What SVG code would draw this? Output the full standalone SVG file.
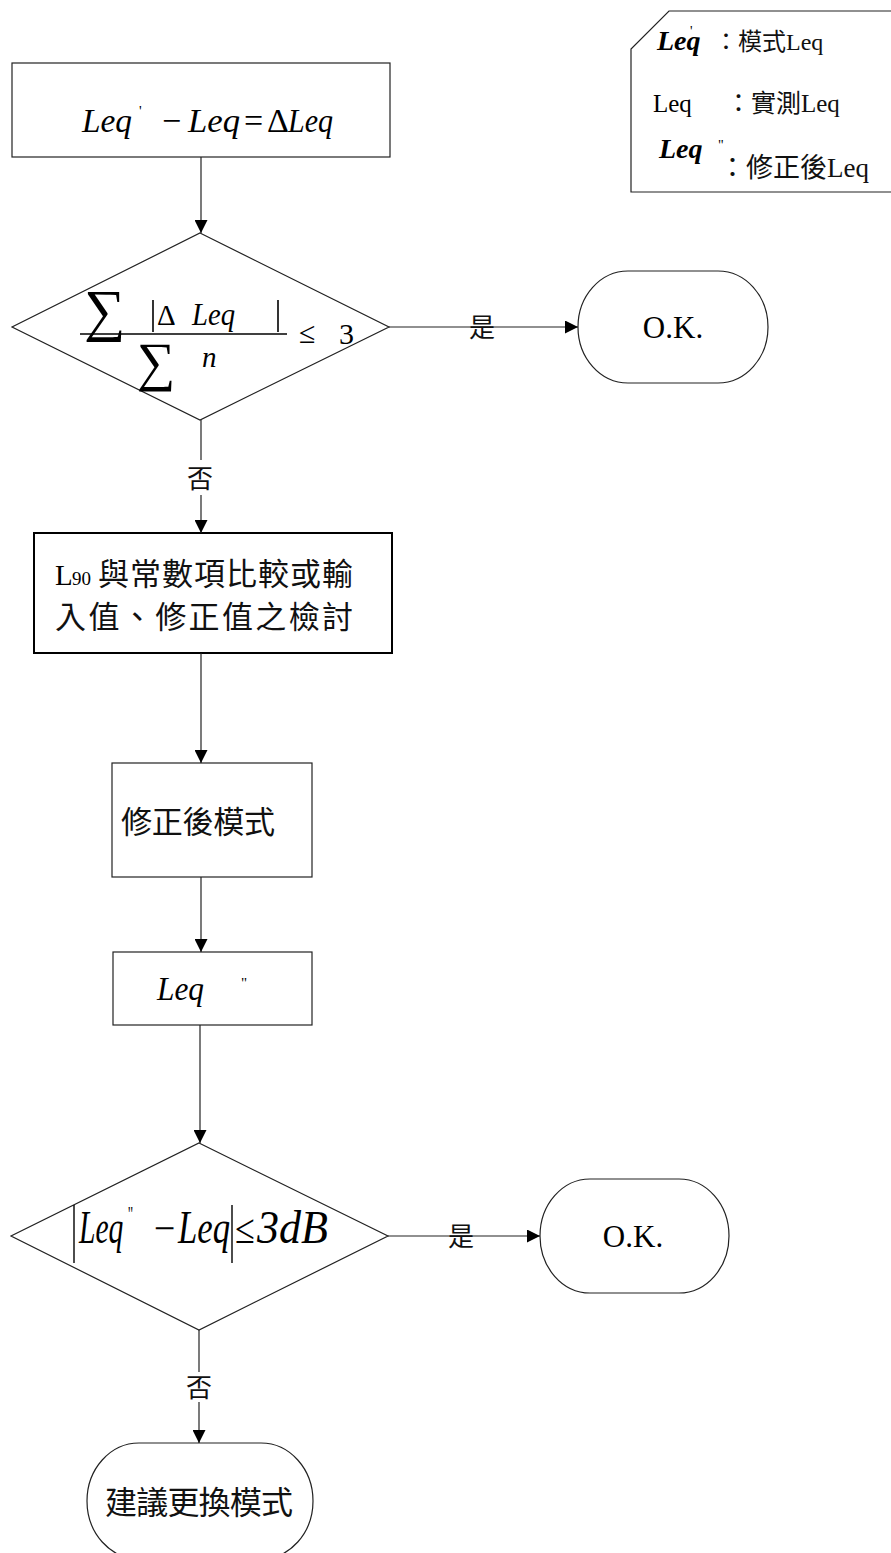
<svg xmlns="http://www.w3.org/2000/svg" width="891" height="1553" viewBox="0 0 891 1553">
<style>
.s{fill:#fff;stroke:#222;stroke-width:1.2}
.b{fill:#fff;stroke:#000;stroke-width:2}
.c{stroke:#222;stroke-width:1.2;fill:none}
.t{font-family:"Liberation Serif","Noto Sans CJK TC",serif;fill:#111}
.m{font-family:"Liberation Serif",serif;font-style:italic;fill:#000}
.r{font-family:"Liberation Serif",serif;fill:#000}
</style>
<defs>
<marker id="arr" markerWidth="13" markerHeight="13" refX="13" refY="6.5" orient="auto" markerUnits="userSpaceOnUse">
<path d="M0,0 L13,6.5 L0,13 z" fill="#000"/>
</marker>
</defs>
<rect width="891" height="1553" fill="#fff"/>

<g id="legend">
<path d="M893,11 L669,11 L631,49 L631,192 L893,192" class="c"/>
<text class="m" x="657" y="50" font-size="28" font-weight="bold">Leq</text>
<text class="r" x="690" y="36" font-size="14">'</text>
<text class="t" x="714" y="50" font-size="24">：模式Leq</text>
<text class="r" x="653" y="112" font-size="25">Leq</text>
<text class="t" x="726" y="112" font-size="25">：實測Leq</text>
<text class="m" x="659" y="158" font-size="28" font-weight="bold">Leq</text>
<text class="r" x="718" y="150" font-size="14">"</text>
<text class="t" x="719" y="177" font-size="27">：修正後Leq</text>
</g>

<g id="n1">
<rect x="12" y="63" width="378" height="94" class="s"/>
<text class="m" x="82" y="132" font-size="34" textLength="50" lengthAdjust="spacingAndGlyphs">Leq</text>
<text class="r" x="139" y="116" font-size="15">'</text>
<text class="r" x="162" y="132" font-size="34">−</text>
<text class="m" x="188" y="132" font-size="34" textLength="52" lengthAdjust="spacingAndGlyphs">Leq</text>
<text class="r" x="244" y="132" font-size="34">=</text>
<text class="r" x="267" y="132" font-size="34">Δ</text>
<text class="m" x="288" y="132" font-size="34" textLength="45" lengthAdjust="spacingAndGlyphs">Leq</text>
</g>

<g id="d1">
<polygon points="200,233 389,327 200,420 12,327" class="s"/>
<text class="r" x="84" y="330" font-size="58">∑</text>
<line x1="153" y1="300" x2="153" y2="332" stroke="#000" stroke-width="1.6"/>
<text class="r" x="157" y="325" font-size="29">Δ</text>
<text class="m" x="192" y="325" font-size="31" textLength="43" lengthAdjust="spacingAndGlyphs">Leq</text>
<line x1="278" y1="300" x2="278" y2="332" stroke="#000" stroke-width="1.6"/>
<line x1="80" y1="334" x2="287" y2="334" stroke="#000" stroke-width="1.4"/>
<text class="r" x="299" y="343" font-size="30">≤</text>
<text class="r" x="339" y="344" font-size="30">3</text>
<text class="r" x="137" y="380" font-size="54">∑</text>
<text class="m" x="202" y="367" font-size="29">n</text>
</g>

<g id="ok1">
<rect x="578" y="271" width="190" height="112" rx="50" ry="56" class="s"/>
<text class="r" x="673" y="338" font-size="31" text-anchor="middle">O.K.</text>
</g>

<g id="n2">
<rect x="34" y="533" width="358" height="120" class="b"/>
<text class="r" x="55" y="585" font-size="29">L</text>
<text class="r" x="72" y="585" font-size="19">90</text>
<text class="t" x="98" y="585" font-size="31" textLength="255" lengthAdjust="spacing">與常數項比較或輸</text>
<text class="t" x="55" y="628" font-size="31" textLength="298" lengthAdjust="spacing">入值、修正值之檢討</text>
</g>

<g id="n3">
<rect x="112" y="763" width="200" height="114" class="s"/>
<text class="t" x="121" y="833" font-size="31" textLength="154" lengthAdjust="spacing">修正後模式</text>
</g>

<g id="n4">
<rect x="113" y="952" width="199" height="73" class="s"/>
<text class="m" x="157" y="1000" font-size="33" textLength="47" lengthAdjust="spacingAndGlyphs">Leq</text>
<text class="r" x="241" y="988" font-size="15">"</text>
</g>

<g id="d2">
<polygon points="199,1143 388,1236 199,1330 11,1236" class="s"/>
<line x1="74" y1="1205" x2="74" y2="1263" stroke="#000" stroke-width="1.4"/>
<g transform="translate(79,1243) scale(0.74,1.15)">
<text class="m" x="0" y="0" font-size="40">Leq<tspan font-style="normal" font-size="18" dx="6" dy="-19">"</tspan></text>
</g>
<g transform="translate(0,1243) scale(1,1.15)">
<text class="r" x="154" y="0" font-size="38">−</text>
<text class="m" x="178" y="0" font-size="40" textLength="52" lengthAdjust="spacingAndGlyphs">Leq</text>
<text class="r" x="235" y="0" font-size="36">≤</text>
<text class="m" x="257" y="0" font-size="40" textLength="71" lengthAdjust="spacingAndGlyphs">3dB</text>
</g>
<line x1="232" y1="1205" x2="232" y2="1263" stroke="#000" stroke-width="1.4"/>
</g>

<g id="ok2">
<rect x="540" y="1179" width="189" height="114" rx="50" ry="57" class="s"/>
<text class="r" x="633" y="1247" font-size="31" text-anchor="middle">O.K.</text>
</g>

<g id="end">
<rect x="87" y="1443" width="226" height="116" rx="52" ry="58" class="s"/>
<text class="t" x="105" y="1514" font-size="32" textLength="188" lengthAdjust="spacing">建議更換模式</text>
</g>

<g id="connectors">
<line x1="201" y1="157" x2="201" y2="233" class="c" marker-end="url(#arr)"/>
<line x1="389" y1="327" x2="578" y2="327" class="c" marker-end="url(#arr)"/>
<text class="t" x="482" y="337" font-size="26" text-anchor="middle">是</text>
<line x1="201" y1="420" x2="201" y2="460" class="c"/>
<text class="t" x="200" y="488" font-size="26" text-anchor="middle">否</text>
<line x1="201" y1="495" x2="201" y2="533" class="c" marker-end="url(#arr)"/>
<line x1="201" y1="653" x2="201" y2="763" class="c" marker-end="url(#arr)"/>
<line x1="201" y1="877" x2="201" y2="952" class="c" marker-end="url(#arr)"/>
<line x1="200" y1="1025" x2="200" y2="1143" class="c" marker-end="url(#arr)"/>
<line x1="388" y1="1236" x2="540" y2="1236" class="c" marker-end="url(#arr)"/>
<text class="t" x="461" y="1246" font-size="26" text-anchor="middle">是</text>
<line x1="199" y1="1330" x2="199" y2="1372" class="c"/>
<text class="t" x="199" y="1397" font-size="26" text-anchor="middle">否</text>
<line x1="199" y1="1402" x2="199" y2="1443" class="c" marker-end="url(#arr)"/>
</g>
</svg>
